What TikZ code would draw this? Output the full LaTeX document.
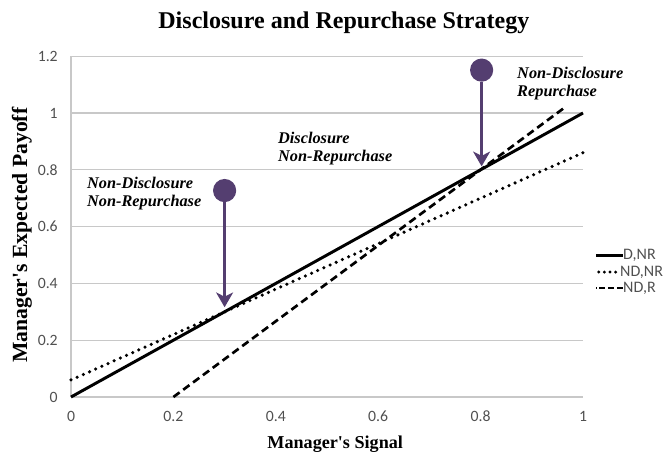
\documentclass[tikz,border=0pt]{standalone}
\usepackage{fontspec}
\setmainfont{Liberation Serif}
\newfontfamily\chartfont{Carlito}
\usepackage{tikz}
\usetikzlibrary{arrows.meta}
\definecolor{stratpurple}{RGB}{84,62,112}
\definecolor{gridgray}{RGB}{200,200,200}
\definecolor{ticktext}{RGB}{80,80,80}
\tikzset{
  gridline/.style={draw=gridgray, line width=0.8pt},
  dnrLine/.style={line width=2.1pt},                                        % D,NR
  ndnrLine/.style={line width=2.5pt, line cap=round, dash pattern=on 0pt off 4.8pt}, % ND,NR
  ndrLine/.style={line width=1.9pt, dash pattern=on 5.5pt off 3.2pt},        % ND,R
  ticklabel/.style={font=\chartfont\fontsize{11.2}{13}\selectfont, text=ticktext, inner sep=0pt},
  legtext/.style={font=\chartfont\fontsize{11.4}{13}\selectfont, text=ticktext, anchor=west, inner sep=0pt},
  signaldot/.style={circle, fill=stratpurple, minimum size=16.5pt, inner sep=0pt},
  payoffArrow/.style={-{Stealth[length=10.5pt, width=12pt, inset=3pt]}, line width=1.9pt, draw=stratpurple},
  note/.style={font=\bfseries\itshape\fontsize{11.6}{12.8}\selectfont, align=left, inner sep=0pt, anchor=north west}
}

\begin{document}
\begin{tikzpicture}[x=12.8cm, y=7.1cm]
  \useasboundingbox (-1.775cm,-1.375cm) rectangle (14.825cm,9.925cm);
  % grid and axes
  \foreach \v in {0.2,0.4,0.6,0.8,1,1.2}
    \draw[gridline] (0,\v) -- (1,\v);
  \draw[gridline] (0,0) -- (1,0);
  \draw[gridline] (0,0) -- (0,1.2);
  \foreach \v [count=\i] in {0,0.2,0.4,0.6,0.8,1,1.2}
    \node[ticklabel, anchor=east] (ytick\i) at (-0.0254,\v) {\v};
  \foreach \v [count=\i] in {0,0.2,0.4,0.6,0.8,1}
    \node[ticklabel] (xtick\i) at (\v,-0.0669) {\v};
  % payoff lines
  \draw[ndnrLine] (0,0.06) -- (1,0.86);
  \draw[ndrLine] (0.2,0) -- (0.961,1.015);
  \draw[dnrLine] (0,0) -- (1,1);
  % switching points
  \node[signaldot] (dotA) at (0.3,0.727) {};
  \coordinate (tipA) at (0.3,0.316);
  \draw[payoffArrow] (dotA) -- (tipA);
  \node[signaldot] (dotB) at (0.802,1.151) {};
  \coordinate (tipB) at (0.802,0.812);
  \draw[payoffArrow] (dotB) -- (tipB);
  % region labels
  \node[note] (regA) at (0.031,0.775) {Non-Disclosure\\Non-Repurchase};
  \node[note] (regB) at (0.404,0.933) {Disclosure\\Non-Repurchase};
  \node[note] (regC) at (0.871,1.162) {Non-Disclosure\\Repurchase};
  % legend
  \node[legtext] (legA) at (1.078,0.4975) {D,NR};
  \draw[dnrLine] (legA.west) -- ++(-0.053,0);
  \node[legtext] (legB) at (1.072,0.440) {ND,NR};
  \draw[ndnrLine, line width=2.3pt, dash pattern=on 0pt off 4pt] ([xshift=-3pt]legB.west) -- ++(-0.040,0);
  \node[legtext] (legC) at (1.078,0.384) {ND,R};
  \draw[ndrLine, dash pattern=on 4pt off 2.4pt] (legC.west) -- ++(-0.053,0);
  % titles
  \node[font=\bfseries\fontsize{17.1}{20}\selectfont, anchor=base] (title) at (0.533,1.296) {Disclosure and Repurchase Strategy};
  \node[font=\bfseries\fontsize{12.9}{15}\selectfont, anchor=base] (xlab) at (0.516,-0.1796) {Manager\textquotesingle s Signal};
  \node[font=\bfseries\fontsize{15.4}{18}\selectfont, anchor=base, rotate=90] (ylab) at (-0.0859,0.570) {Manager\textquotesingle s Expected Payoff};
\end{tikzpicture}
\end{document}
